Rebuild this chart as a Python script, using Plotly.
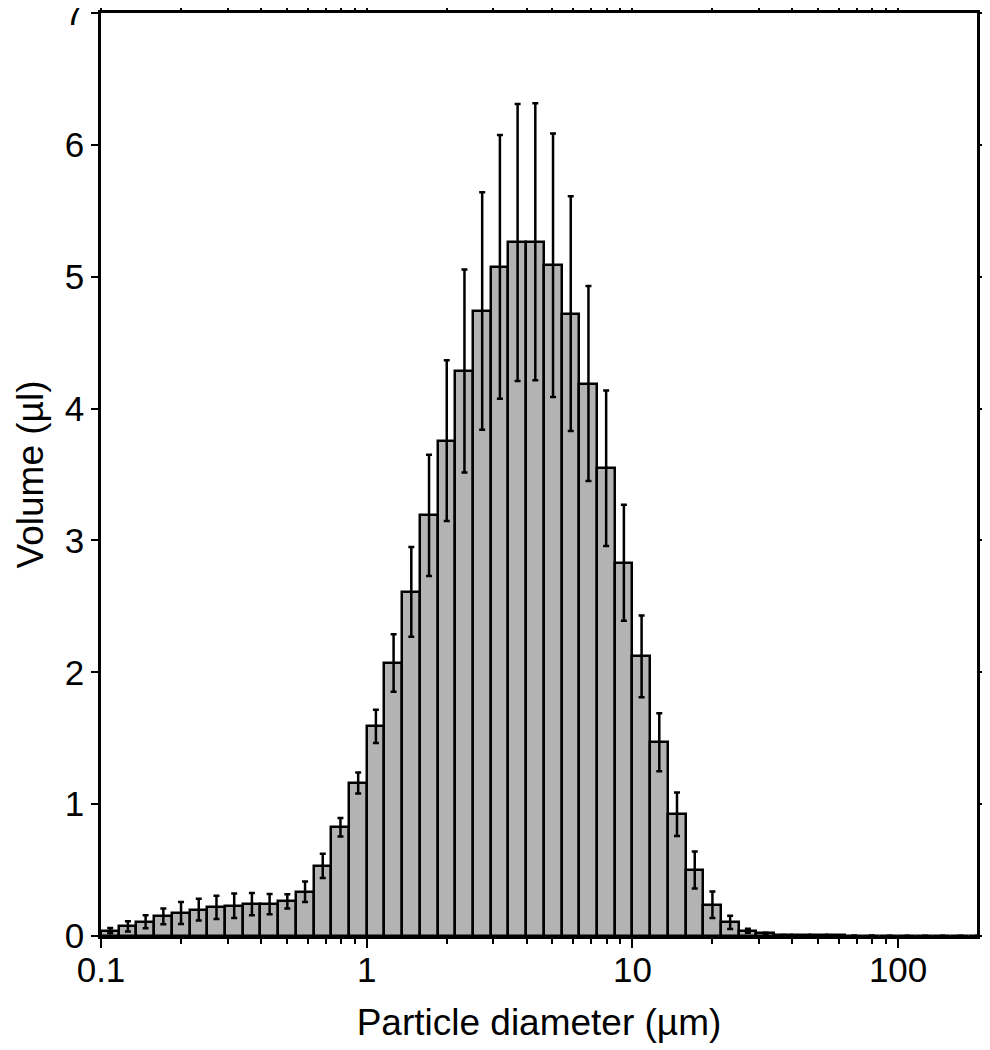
import plotly.graph_objects as go

# bin edges (µm), 15 channels per decade
bin_edges = [
    0.1, 0.1166, 0.1359, 0.1585, 0.1848, 0.2154, 0.2512, 0.2929, 0.3415, 0.3981,
    0.4642, 0.5412, 0.6310, 0.7356, 0.8577,
    1.0, 1.166, 1.359, 1.585, 1.848, 2.154, 2.512, 2.929, 3.415, 3.981,
    4.642, 5.412, 6.310, 7.356, 8.577,
    10.0, 11.66, 13.59, 15.85, 18.48, 21.54, 25.12, 29.29, 34.15, 39.81,
    46.42, 54.12, 63.10, 73.56, 85.77,
    100.0, 116.6, 135.9, 158.5, 184.8, 215.4,
]

volume = [
    0.040, 0.073, 0.108, 0.149, 0.174, 0.200, 0.217, 0.230, 0.242, 0.242,
    0.263, 0.335, 0.532, 0.825, 1.160, 1.590, 2.070, 2.610, 3.190, 3.757,
    4.285, 4.740, 5.075, 5.260, 5.265, 5.087, 4.720, 4.190, 3.548, 2.830,
    2.120, 1.470, 0.924, 0.500, 0.237, 0.104, 0.040, 0.020, 0.008, 0.006,
    0.005, 0.004, 0.003, 0.003, 0.002, 0.002, 0.002, 0.001, 0.001, 0.001,
]

volume_err = [
    0.020, 0.038, 0.050, 0.060, 0.083, 0.082, 0.088, 0.093, 0.085, 0.077,
    0.054, 0.078, 0.092, 0.070, 0.080, 0.126, 0.218, 0.340, 0.460, 0.610,
    0.770, 0.900, 1.000, 1.050, 1.050, 1.000, 0.890, 0.740, 0.590, 0.440,
    0.310, 0.220, 0.165, 0.140, 0.100, 0.050, 0.015, 0.005, 0, 0,
    0, 0, 0, 0, 0, 0, 0, 0, 0, 0,
]

x_tickvals = [0.1, 1, 10, 100]
x_ticktext = ["0.1", "1", "10", "100"]
x_minor = [m * 10 ** e for e in (-1, 0, 1, 2) for m in range(2, 10)]
y_tickvals = [0, 1, 2, 3, 4, 5, 6, 7]

lo = bin_edges[:-1]
hi = bin_edges[1:]
centers = [(a + b) / 2 for a, b in zip(lo, hi)]
widths = [b - a for a, b in zip(lo, hi)]

fig = go.Figure()
fig.add_trace(
    go.Bar(
        x=centers,
        y=volume,
        width=widths,
        marker=dict(color="#b3b3b3", line=dict(color="black", width=2.5)),
        error_y=dict(
            type="data",
            array=volume_err,
            visible=True,
            color="black",
            thickness=2.5,
            width=3,
        ),
        showlegend=False,
    )
)

font = "Liberation Sans, Arial, sans-serif"
axis_common = dict(
    showline=True,
    linecolor="black",
    linewidth=2.5,
    mirror="allticks",
    ticks="outside",
    tickcolor="black",
    tickwidth=2,
    showgrid=False,
    zeroline=False,
    automargin=False,
    ticklabeloverflow="allow",
    tickfont=dict(family=font, size=35, color="black"),
)

fig.update_xaxes(
    type="log",
    range=[-1, 2.297],
    tickmode="array",
    tickvals=x_tickvals,
    ticktext=x_ticktext,
    ticklen=9,
    ticklabelstandoff=-8,
    minor=dict(
        tickmode="array",
        tickvals=x_minor,
        ticks="outside",
        ticklen=5,
        tickwidth=2,
        tickcolor="black",
        showgrid=False,
    ),
    title=dict(text="Particle diameter (µm)", font=dict(family=font, size=37, color="black"), standoff=22),
    **axis_common,
)
fig.update_yaxes(
    range=[0, 7],
    tickmode="array",
    tickvals=y_tickvals,
    ticklen=7,
    title=dict(text="Volume (µl)", font=dict(family=font, size=37, color="black"), standoff=10),
    **axis_common,
)

# the page body adds an 8px offset, so margins are shifted to compensate
fig.update_layout(
    width=990,
    height=1050,
    margin=dict(l=93, r=21, t=5, b=122),
    plot_bgcolor="white",
    paper_bgcolor="white",
    bargap=0,
)

fig.write_html("out.html")
